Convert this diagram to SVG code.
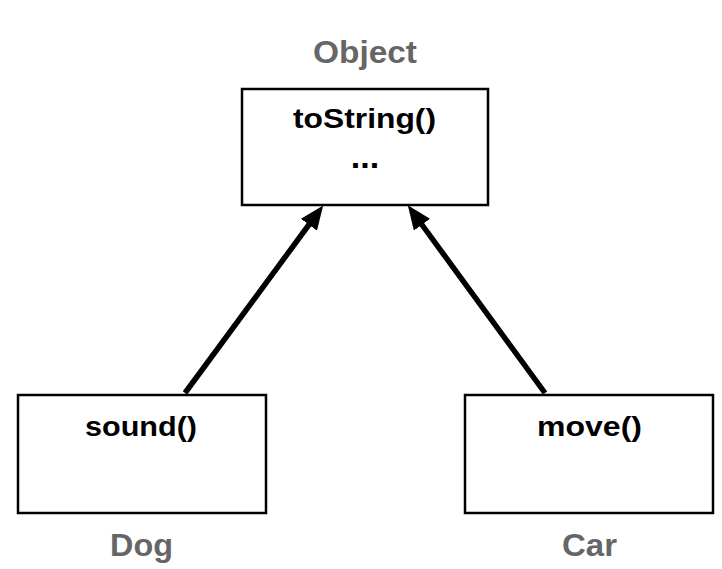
<svg xmlns="http://www.w3.org/2000/svg" width="722" height="569" viewBox="0 0 722 569">
<style>
.box{fill:#fff;stroke:#000;stroke-width:2.5}
.m{font-family:"Liberation Sans",Arial,sans-serif;font-weight:bold;font-size:28px;fill:#000;text-anchor:middle}
.lbl{font-family:"Liberation Sans",Arial,sans-serif;font-weight:bold;font-size:31px;fill:#666;text-anchor:middle}
.edge{stroke:#000;stroke-width:5.5;fill:none}
</style>
<defs>
<marker id="ah" markerUnits="userSpaceOnUse" markerWidth="24" markerHeight="20" viewBox="0 0 24 20" refX="4" refY="10" orient="auto">
<path d="M0,0 L24,10 L0,20 Z" fill="#000"/>
</marker>
</defs>
<g id="connectors">
<line class="edge" x1="185" y1="393" x2="311.3" y2="221.5" marker-end="url(#ah)"/>
<line class="edge" x1="545" y1="393" x2="419.6" y2="221.5" marker-end="url(#ah)"/>
</g>
<g id="object">
<text class="lbl" x="365" y="63" textLength="104" lengthAdjust="spacingAndGlyphs">Object</text>
<rect class="box" x="242" y="89" width="246" height="116"/>
<text class="m" x="364.5" y="128" textLength="143" lengthAdjust="spacingAndGlyphs">toString()</text>
<text class="m" x="365" y="168" style="font-size:34px">...</text>
</g>
<g id="dog">
<rect class="box" x="18" y="395" width="248" height="118"/>
<text class="m" x="141" y="436" textLength="112" lengthAdjust="spacingAndGlyphs">sound()</text>
<text class="lbl" x="141.5" y="556" textLength="63" lengthAdjust="spacingAndGlyphs">Dog</text>
</g>
<g id="car">
<rect class="box" x="465" y="395" width="248" height="118"/>
<text class="m" x="589.5" y="436" textLength="105" lengthAdjust="spacingAndGlyphs">move()</text>
<text class="lbl" x="589.5" y="556" textLength="55" lengthAdjust="spacingAndGlyphs">Car</text>
</g>
</svg>
